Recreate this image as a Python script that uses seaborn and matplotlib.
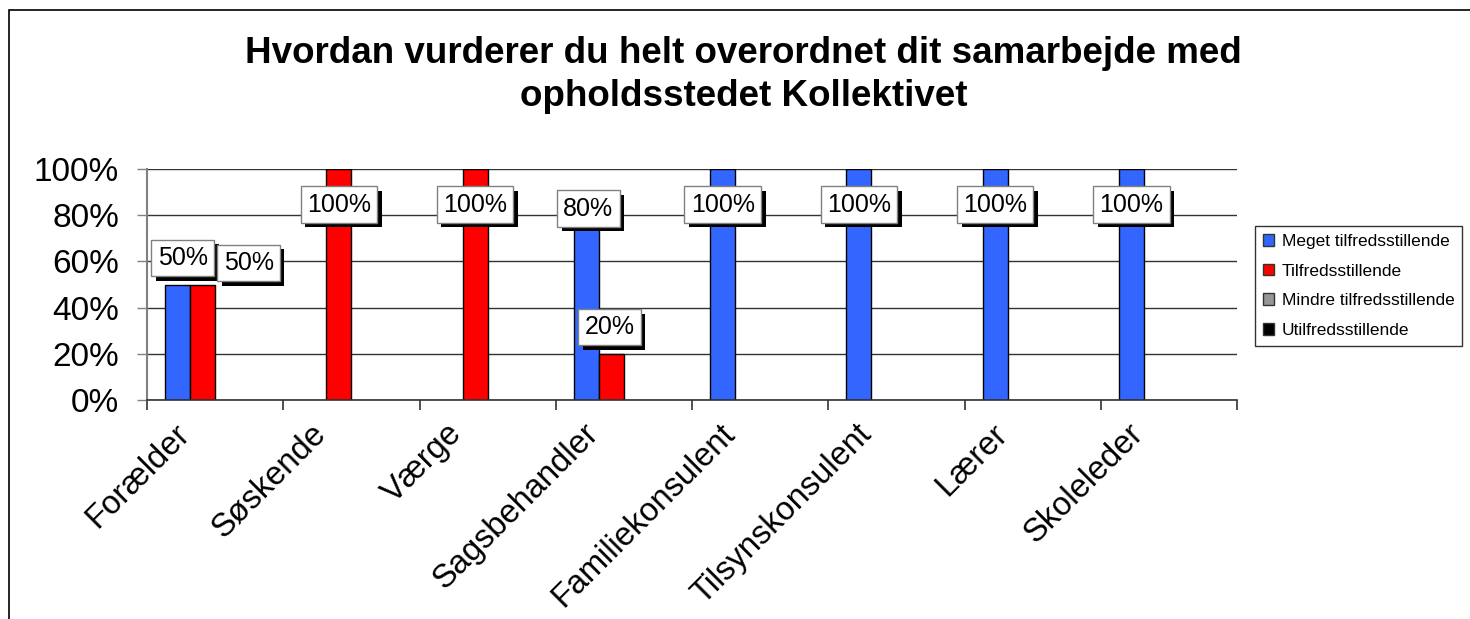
import numpy as np
import pandas as pd
import seaborn as sns
import matplotlib.pyplot as plt
import matplotlib.patheffects as pe
from matplotlib.patches import Patch, Rectangle
from matplotlib.ticker import PercentFormatter
from matplotlib.transforms import ScaledTranslation

# Data (percent of answers)
kategorier = ['Forælder', 'Søskende', 'Værge', 'Sagsbehandler',
              'Familiekonsulent', 'Tilsynskonsulent', 'Lærer', 'Skoleleder']
svar = ['Meget tilfredsstillende', 'Tilfredsstillende',
        'Mindre tilfredsstillende', 'Utilfredsstillende']
meget = [50, 0, 0, 80, 100, 100, 100, 100]
tilfreds = [50, 100, 100, 20, 0, 0, 0, 0]
mindre = [0, 0, 0, 0, 0, 0, 0, 0]
utilfreds = [0, 0, 0, 0, 0, 0, 0, 0]

titel = 'Hvordan vurderer du helt overordnet dit samarbejde med\nopholdsstedet Kollektivet'
farver = ['#3366FF', '#FF0000', '#969696', '#000000']

df = pd.DataFrame({
    'kategori': kategorier * 4,
    'svar': np.repeat(svar, len(kategorier)),
    'andel': meget + tilfreds + mindre + utilfreds,
})
# zero bars are not drawn in the original
df['vis'] = df['andel'].replace(0, np.nan)

sns.set_style('white')
plt.rcParams['font.family'] = ['Liberation Sans', 'DejaVu Sans']
plt.rcParams['text.color'] = 'black'
plt.rcParams['xtick.labelcolor'] = 'black'
plt.rcParams['ytick.labelcolor'] = 'black'

fig = plt.figure(figsize=(14.7, 6.19), dpi=100)
ax = fig.add_axes([147 / 1470, 1 - 400 / 619, 1090 / 1470, 231 / 619])

sns.barplot(data=df, x='kategori', y='vis', hue='svar', order=kategorier,
            hue_order=svar, palette=farver, width=0.733, saturation=1,
            edgecolor='black', linewidth=1, errorbar=None, legend=False, ax=ax)

ax.set_xlim(-0.5, len(kategorier) - 0.5)
ax.set_ylim(0, 100)
ax.set_yticks([0, 20, 40, 60, 80, 100])
ax.yaxis.set_major_formatter(PercentFormatter(decimals=0))
ax.set_xlabel('')
ax.set_ylabel('')

# gridlines
ax.yaxis.grid(True, color='#333333', linewidth=1)
ax.set_axisbelow(True)
for s in ['top', 'right']:
    ax.spines[s].set_visible(False)
ax.spines['left'].set_color('#808080')
ax.spines['left'].set_linewidth(1.5)
ax.spines['bottom'].set_color('#333333')
ax.spines['bottom'].set_linewidth(1.2)

ax.tick_params(axis='y', length=7.2, width=1, color='#808080', pad=13,
               labelsize=24, left=True)
ax.tick_params(axis='x', which='major', length=0, pad=13, labelsize=23.5)
ax.set_xticks(np.arange(-0.5, len(kategorier)), minor=True)
ax.tick_params(axis='x', which='minor', length=7.2, width=1.2, color='#333333',
               bottom=True, direction='out')

ax.set_xticks(range(len(kategorier)))
ax.set_xticklabels(kategorier, rotation=45, ha='right', va='top')
for lab in ax.get_xticklabels():
    lab.set_transform(lab.get_transform() + ScaledTranslation(-0.19, 0, fig.dpi_scale_trans))

# data labels (boxes with shadow), Excel-style placement
flyt = {  # (kategori, svar): (dx px, dy px)
    ('Forælder', 'Meget tilfredsstillende'): (5, 0),
    ('Forælder', 'Tilfredsstillende'): (46, -5),
    ('Sagsbehandler', 'Meget tilfredsstillende'): (2, -4),
    ('Sagsbehandler', 'Tilfredsstillende'): (-2, 0),
}
for hi, cont in enumerate(ax.containers):
    for p in cont.patches:
        h = p.get_height()
        if not np.isfinite(h) or h <= 0:
            continue
        xc = p.get_x() + p.get_width() / 2
        kat = kategorier[int(round(xc))]
        dx, dy = flyt.get((kat, svar[hi]), (0, 0))
        t = ax.annotate(f'{h:.0f}%', xy=(xc, min(h + 11.5, 84.6)),
                        xytext=(dx * 0.72, dy * 0.72),
                        textcoords='offset points', ha='center', va='center',
                        fontsize=18, zorder=5,
                        bbox=dict(boxstyle='square,pad=0.25', facecolor='white',
                                  edgecolor='#808080', linewidth=1))
        t.get_bbox_patch().set_path_effects([
            pe.SimplePatchShadow(offset=(3.3, -3.3), shadow_rgbFace='black', alpha=1),
            pe.Normal()])

# legend
handles = [Patch(facecolor=c, edgecolor='#333333', linewidth=1) for c in farver]
leg = fig.legend(handles, svar, loc='upper left',
                 bbox_to_anchor=(1255 / 1470, 1 - 226 / 619), fontsize=12.5,
                 frameon=True, fancybox=False, handlelength=0.65, handleheight=0.65,
                 handletextpad=0.45, labelspacing=0.85, borderpad=0.45, borderaxespad=0)
leg.get_frame().set_edgecolor('black')
leg.get_frame().set_linewidth(1)

fig.text(0.506, 1 - 75 / 619, titel, ha='center', va='center', fontsize=26.5,
         fontweight='bold', linespacing=1.33)

# outer chart frame
fig.patches.append(Rectangle((9 / 1470, -0.05), 1.2, (619 - 10) / 619 + 0.05,
                             transform=fig.transFigure, fill=False,
                             edgecolor='black', linewidth=1.2))

fig.savefig('out.png', dpi=100)
